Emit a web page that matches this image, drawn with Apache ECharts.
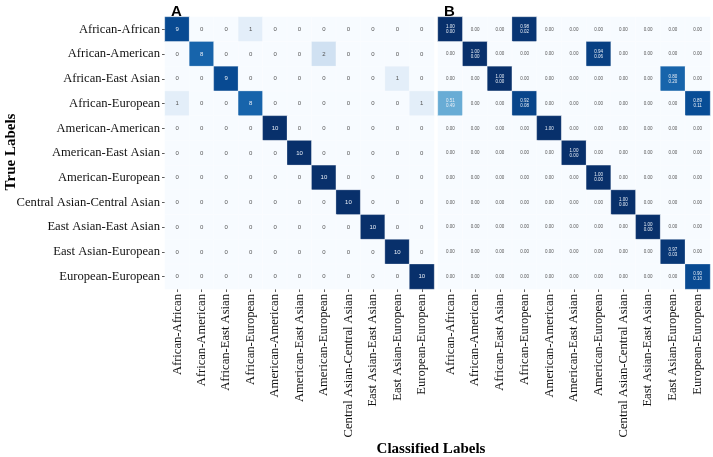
<!DOCTYPE html>
<html>
<head>
<meta charset="utf-8">
<script src="https://cdn.jsdelivr.net/npm/echarts@6/dist/echarts.min.js"></script>
<style>html,body{margin:0;padding:0;background:#fff}#c{width:713px;height:457px}</style>
</head>
<body>
<div id="c"></div>
<script>
var categories = ["African-African","African-American","African-East Asian","African-European","American-American","American-East Asian","American-European","Central Asian-Central Asian","East Asian-East Asian","East Asian-European","European-European"];

var countsA = [
  [9,0,0,1,0,0,0,0,0,0,0],
  [0,8,0,0,0,0,2,0,0,0,0],
  [0,0,9,0,0,0,0,0,0,1,0],
  [1,0,0,8,0,0,0,0,0,0,1],
  [0,0,0,0,10,0,0,0,0,0,0],
  [0,0,0,0,0,10,0,0,0,0,0],
  [0,0,0,0,0,0,10,0,0,0,0],
  [0,0,0,0,0,0,0,10,0,0,0],
  [0,0,0,0,0,0,0,0,10,0,0],
  [0,0,0,0,0,0,0,0,0,10,0],
  [0,0,0,0,0,0,0,0,0,0,10]
];

var meanB = [
  [1.00,0,0,0.98,0,0,0,0,0,0,0],
  [0,1.00,0,0,0,0,0.94,0,0,0,0],
  [0,0,1.00,0,0,0,0,0,0,0.80,0],
  [0.51,0,0,0.92,0,0,0,0,0,0,0.89],
  [0,0,0,0,1.00,0,0,0,0,0,0],
  [0,0,0,0,0,1.00,0,0,0,0,0],
  [0,0,0,0,0,0,1.00,0,0,0,0],
  [0,0,0,0,0,0,0,1.00,0,0,0],
  [0,0,0,0,0,0,0,0,1.00,0,0],
  [0,0,0,0,0,0,0,0,0,0.97,0],
  [0,0,0,0,0,0,0,0,0,0,0.90]
];

var n = null;
var stdB = [
  [0.00,n,n,0.02,n,n,n,n,n,n,n],
  [n,0.00,n,n,n,n,0.06,n,n,n,n],
  [n,n,0.00,n,n,n,n,n,n,0.20,n],
  [0.49,n,n,0.08,n,n,n,n,n,n,0.11],
  [n,n,n,n,n,n,n,n,n,n,n],
  [n,n,n,n,n,0.00,n,n,n,n,n],
  [n,n,n,n,n,n,0.00,n,n,n,n],
  [n,n,n,n,n,n,n,0.00,n,n,n],
  [n,n,n,n,n,n,n,n,0.00,n,n],
  [n,n,n,n,n,n,n,n,n,0.03,n],
  [n,n,n,n,n,n,n,n,n,n,0.10]
];

var blues = ['#f7fbff','#deebf7','#c6dbef','#9ecae1','#6baed6','#4292c6','#2171b5','#08519c','#08306b'];
var serif = 'Liberation Serif';

var dataA = [], dataB = [];
for (var r = 0; r < categories.length; r++) {
  for (var c = 0; c < categories.length; c++) {
    var v = countsA[r][c];
    dataA.push({value:[c, r, v], label:{color: v/10 > 0.5 ? '#e8eef6' : '#555'}});
    var m = meanB[r][c], s = stdB[r][c];
    dataB.push({value:[c, r, m, s], label:{color: m > 0.5 ? '#e8eef6' : '#555'}});
  }
}

function xAxisCfg(gi){
  return {
    type:'category', data:categories, gridIndex:gi, position:'bottom',
    axisLine:{show:false}, splitArea:{show:false},
    axisTick:{show:true, length:3, alignWithLabel:true, lineStyle:{color:'#333', width:0.8}},
    axisLabel:{rotate:90, fontFamily:serif, fontSize:12.6, color:'#111', margin:5, interval:0}
  };
}

var option = {
  backgroundColor:'#fff',
  animation:false,
  title:[
    {text:'A', left:166, top:-1, textStyle:{fontFamily:'Liberation Sans', fontWeight:'bold', fontSize:15, color:'#000'}},
    {text:'B', left:439, top:-1, textStyle:{fontFamily:'Liberation Sans', fontWeight:'bold', fontSize:15, color:'#000'}}
  ],
  grid:[
    {left:165, top:17, width:269, height:272},
    {left:438, top:17, width:272, height:272}
  ],
  xAxis:[xAxisCfg(0), xAxisCfg(1)],
  yAxis:[
    {type:'category', data:categories, gridIndex:0, inverse:true,
     axisLine:{show:false},
     axisTick:{show:true, length:3, alignWithLabel:true, lineStyle:{color:'#333', width:0.8}},
     axisLabel:{fontFamily:serif, fontSize:12.6, color:'#111', margin:5, interval:0}},
    {type:'category', data:categories, gridIndex:1, inverse:true,
     axisLine:{show:false}, axisTick:{show:false}, axisLabel:{show:false}}
  ],
  visualMap:[
    {type:'continuous', show:false, min:0, max:10, dimension:2, seriesIndex:0, inRange:{color:blues}},
    {type:'continuous', show:false, min:0, max:1, dimension:2, seriesIndex:1, inRange:{color:blues}}
  ],
  graphic:[
    {type:'text', x:11, y:152, rotation:Math.PI/2,
     style:{text:'True Labels', font:'bold 15px "Liberation Serif"', fill:'#000', align:'center', verticalAlign:'middle'}},
    {type:'text', x:431, y:442,
     style:{text:'Classified Labels', font:'bold 15px "Liberation Serif"', fill:'#000', align:'center', verticalAlign:'top'}}
  ],
  series:[
    {type:'heatmap', xAxisIndex:0, yAxisIndex:0, data:dataA,
     itemStyle:{borderColor:'rgba(255,255,255,0.35)', borderWidth:0.8},
     label:{show:true, fontSize:6, fontFamily:'Liberation Sans',
       formatter:function(p){return String(p.value[2]);}}},
    {type:'heatmap', xAxisIndex:1, yAxisIndex:1, data:dataB,
     itemStyle:{borderColor:'rgba(255,255,255,0.35)', borderWidth:0.8},
     label:{show:true, fontSize:4.5, lineHeight:5, fontFamily:'Liberation Sans',
       formatter:function(p){
         var t = p.value[2].toFixed(2);
         if (p.value[3] !== null && p.value[3] !== undefined) t += '\n' + p.value[3].toFixed(2);
         return t;
       }}}
  ]
};
var chart = echarts.init(document.getElementById('c'), null, {renderer:'canvas'});
chart.setOption(option);
</script>
</body>
</html>
